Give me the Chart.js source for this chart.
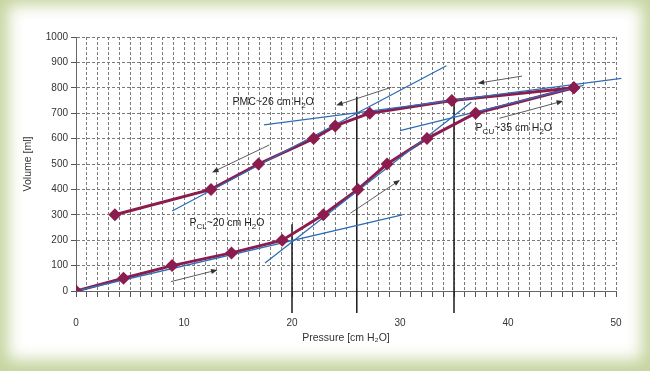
<!DOCTYPE html>
<html>
<head>
<meta charset="utf-8">
<script src="https://cdn.jsdelivr.net/npm/chart.js@4/dist/chart.umd.min.js"></script>
<style>
html, body { margin: 0; padding: 0; }
body { width: 650px; height: 371px; overflow: hidden; position: relative; background: #fff; }
#frame { position: absolute; left: 0; top: 0; width: 650px; height: 371px; box-shadow: inset 0 -3px 16px 8px #c5d49e; }
canvas { position: absolute; left: 0; top: 0; }
</style>
</head>
<body>
<div id="frame"></div>
<canvas id="myChart" width="650" height="371"></canvas>
<script>
// pressure [cm H2O] / volume [ml]
const inflationP = [0, 4.4, 8.9, 14.4, 19.1, 22.9, 26.1, 28.8, 32.5, 37.0, 46.1]
const inflationV = [0, 50, 100, 150, 200, 300, 400, 500, 600, 700, 800]
const deflationP = [46.1, 34.8, 27.2, 24.0, 22.0, 16.9, 12.5, 3.6]
const deflationV = [800, 750, 700, 650, 600, 500, 400, 300]

// tangent lines
const lowInflP = [0, 30.2]
const lowInflV = [0, 300]
const steepInflP = [17.5, 36.6]
const steepInflV = [110, 743]
const upperInflP = [30, 47]
const upperInflV = [631, 810]
const flatDeflP = [17.4, 50.5]
const flatDeflV = [654, 837]
const steepDeflP = [8.9, 34.3]
const steepDeflV = [315, 887]

// vertical markers at PCL, PMC, PCU
const markerP = [20, 26, 35]
const markerTop = [263, 765, 750]
const markerBottom = -87

// arrows [fromP, fromV, toP, toV]
const arrows = [
  [8.8, 37, 13.1, 83],
  [25.4, 306, 30, 437],
  [39.2, 680, 45.1, 748],
  [41.3, 846, 37.2, 818],
  [29.2, 802, 24.1, 731],
  [17.9, 575, 12.6, 467]
]

// labels: [p, v, pieces]
const notes = [
  [14.5, 744, [['PMC~26 cm H', 0], ['2', 1], ['O', 0]]],
  [10.5, 268, [['P', 0], ['CL', 1], ['~20 cm H', 0], ['2', 1], ['O', 0]]],
  [37.0, 642, [['P', 0], ['CU', 1], ['~35 cm H', 0], ['2', 1], ['O', 0]]]
]

const xTicks = [0, 10, 20, 30, 40, 50]

const maroon = '#8c1c4e'
const blue = '#2f6db6'
const fontName = '"Liberation Sans", Arial, sans-serif'

const toPoints = (xs, ys) => xs.map((x, i) => ({x: x, y: ys[i]}))

const blueLine = function (xs, ys) {
  return {
    data: toPoints(xs, ys),
    borderColor: blue,
    borderWidth: 1.3,
    pointRadius: 0,
    order: 1,
    clip: false
  }
}

let datasets = [
  {
    data: toPoints(inflationP.concat(deflationP), inflationV.concat(deflationV)),
    showLine: false,
    pointStyle: 'rectRot',
    pointRadius: 6.5,
    pointBackgroundColor: maroon,
    pointBorderColor: maroon,
    pointBorderWidth: 0,
    order: 0
  },
  blueLine(lowInflP, lowInflV),
  blueLine(steepInflP, steepInflV),
  blueLine(upperInflP, upperInflV),
  blueLine(flatDeflP, flatDeflV),
  blueLine(steepDeflP, steepDeflV),
  {
    data: toPoints(inflationP, inflationV),
    borderColor: maroon,
    borderWidth: 3,
    pointRadius: 0,
    order: 2
  },
  {
    data: toPoints(deflationP, deflationV),
    borderColor: maroon,
    borderWidth: 3,
    pointRadius: 0,
    order: 2
  }
]
markerP.forEach(function (p, i) {
  datasets.push({
    data: [{x: p, y: markerBottom}, {x: p, y: markerTop[i]}],
    borderColor: '#1a1a1a',
    borderWidth: 1.5,
    pointRadius: 0,
    order: 3,
    clip: false
  })
})

const extras = {
  id: 'extras',
  afterDatasetsDraw(chart) {
    const ctx = chart.ctx
    const xs = chart.scales.x
    const ys = chart.scales.y
    ctx.save()
    ctx.strokeStyle = '#333'
    ctx.fillStyle = '#333'
    ctx.lineWidth = 0.8
    arrows.forEach(function (a) {
      const x1 = xs.getPixelForValue(a[0])
      const y1 = ys.getPixelForValue(a[1])
      const x2 = xs.getPixelForValue(a[2])
      const y2 = ys.getPixelForValue(a[3])
      const ang = Math.atan2(y2 - y1, x2 - x1)
      ctx.beginPath()
      ctx.moveTo(x1, y1)
      ctx.lineTo(x2 - 4 * Math.cos(ang), y2 - 4 * Math.sin(ang))
      ctx.stroke()
      ctx.beginPath()
      ctx.moveTo(x2, y2)
      ctx.lineTo(x2 - 7 * Math.cos(ang - 0.38), y2 - 7 * Math.sin(ang - 0.38))
      ctx.lineTo(x2 - 7 * Math.cos(ang + 0.38), y2 - 7 * Math.sin(ang + 0.38))
      ctx.closePath()
      ctx.fill()
    })
    ctx.fillStyle = '#222'
    ctx.textBaseline = 'middle'
    ctx.textAlign = 'left'
    notes.forEach(function (n) {
      let x = xs.getPixelForValue(n[0])
      const y = ys.getPixelForValue(n[1])
      n[2].forEach(function (piece) {
        ctx.font = (piece[1] ? '8px ' : '10.5px ') + fontName
        ctx.fillText(piece[0], x, piece[1] ? y + 3.5 : y)
        x += ctx.measureText(piece[0]).width
      })
    })
    ctx.restore()
  }
}

let ctx = document.getElementById('myChart').getContext('2d')
let chart = new Chart(ctx, {
  type: 'line',
  data: { datasets: datasets },
  plugins: [extras],
  options: {
    responsive: false,
    animation: false,
    layout: { padding: { left: 0, right: 34, top: 37, bottom: 0 } },
    plugins: { legend: { display: false }, tooltip: { enabled: false } },
    scales: {
      x: {
        type: 'linear',
        min: 0,
        max: 50,
        afterFit: (scale) => { scale.height = 80 },
        ticks: {
          stepSize: 1,
          autoSkip: false,
          maxRotation: 0,
          padding: 20,
          color: '#333',
          font: { family: fontName, size: 10 },
          callback: (v) => xTicks.includes(v) ? String(v) : ''
        },
        grid: { color: '#7a7a7a', tickColor: '#555', tickLength: 6, lineWidth: 1 },
        border: { color: '#666', width: 1, dash: [3, 2] },
        title: {
          display: true,
          text: 'Pressure [cm H₂O]',
          color: '#333',
          font: { family: fontName, size: 10.5 },
          padding: { top: 0, bottom: 27 }
        }
      },
      y: {
        min: 0,
        max: 1000,
        afterFit: (scale) => { scale.width = 76 },
        ticks: {
          stepSize: 100,
          padding: 3,
          color: '#333',
          font: { family: fontName, size: 10 },
          callback: (v) => String(v)
        },
        grid: { color: '#7a7a7a', tickColor: '#555', tickLength: 5, lineWidth: 1 },
        border: { color: '#666', width: 1, dash: [3, 2] },
        title: {
          display: true,
          text: 'Volume [ml]',
          color: '#333',
          font: { family: fontName, size: 10.5 },
          padding: { top: 22, bottom: 0 }
        }
      }
    }
  }
})
</script>
</body>
</html>
